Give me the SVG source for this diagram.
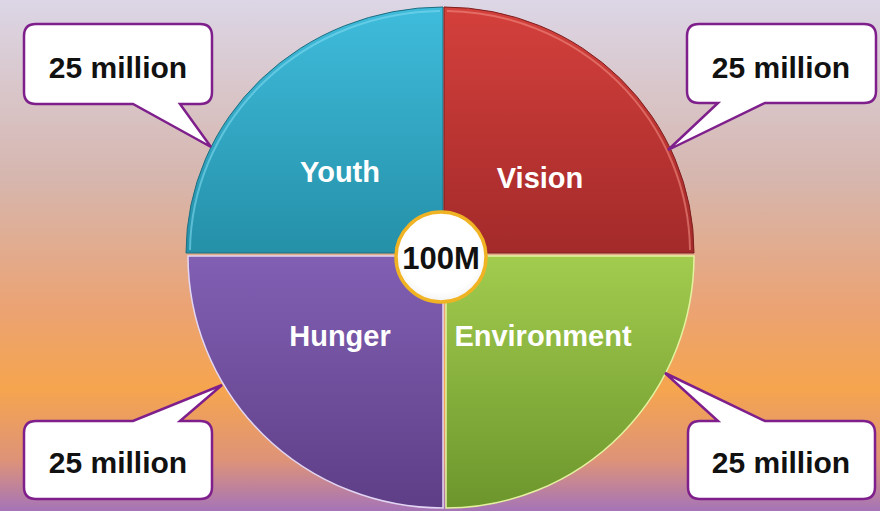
<svg xmlns="http://www.w3.org/2000/svg" width="880" height="511" viewBox="0 0 880 511">
  <defs>
    <linearGradient id="bg" x1="0" y1="0" x2="0" y2="1">
      <stop offset="0" stop-color="#DCD6E6"/>
      <stop offset="0.35" stop-color="#D6B6AE"/>
      <stop offset="0.6" stop-color="#EBA374"/>
      <stop offset="0.76" stop-color="#F6A54E"/>
      <stop offset="0.9" stop-color="#DE9378"/>
      <stop offset="1" stop-color="#A574B8"/>
    </linearGradient>
    <linearGradient id="gY" x1="0" y1="0" x2="0" y2="1">
      <stop offset="0" stop-color="#3FBCDC"/>
      <stop offset="1" stop-color="#2590A8"/>
    </linearGradient>
    <linearGradient id="gV" x1="0" y1="0" x2="0" y2="1">
      <stop offset="0" stop-color="#D4403C"/>
      <stop offset="1" stop-color="#A32A2A"/>
    </linearGradient>
    <linearGradient id="gH" x1="0" y1="0" x2="0" y2="1">
      <stop offset="0" stop-color="#8160B4"/>
      <stop offset="1" stop-color="#5E3E86"/>
    </linearGradient>
    <linearGradient id="gE" x1="0" y1="0" x2="0" y2="1">
      <stop offset="0" stop-color="#A2CC4E"/>
      <stop offset="1" stop-color="#6C962C"/>
    </linearGradient>
    <radialGradient id="gC" cx="0.5" cy="0.45" r="0.55">
      <stop offset="0.8" stop-color="#FFFFFF"/>
      <stop offset="1" stop-color="#F2F2F2"/>
    </radialGradient>
    <style>
      .seg-label { font-family: "Liberation Sans", Arial, sans-serif; font-weight: bold; font-size: 29px; fill: #FFFFFF; text-anchor: middle; }
      .callout { fill: #FFFFFF; stroke: #7E1F8C; stroke-width: 2.5; stroke-linejoin: miter; }
      .callout-text { font-family: "Liberation Sans", Arial, sans-serif; font-weight: bold; font-size: 30px; fill: #111111; text-anchor: middle; }
      .center-text { font-family: "Liberation Sans", Arial, sans-serif; font-weight: bold; font-size: 31px; fill: #111111; text-anchor: middle; }
    </style>
  </defs>

  <rect x="0" y="0" width="880" height="511" fill="url(#bg)"/>

  <g id="youth">
    <path d="M443,253 H186 A257,246 0 0 1 443,7 Z" fill="url(#gY)" stroke="#1F6E80" stroke-width="1"/>
    <path d="M190,250 A253,242 0 0 1 440,11" fill="none" stroke="#7FD8EE" stroke-width="2" opacity="0.6"/>
    <text class="seg-label" x="340" y="182">Youth</text>
  </g>

  <g id="vision">
    <path d="M444,253 V7 A250,246 0 0 1 694,253 Z" fill="url(#gV)" stroke="#7E1E1E" stroke-width="1"/>
    <path d="M447,11 A246,242 0 0 1 690,250" fill="none" stroke="#F08A80" stroke-width="2" opacity="0.6"/>
    <text class="seg-label" x="540" y="188">Vision</text>
  </g>

  <g id="hunger">
    <path d="M443,256 V508 A255,252 0 0 1 188,256 Z" fill="url(#gH)" stroke="#E2D6F4" stroke-width="1.5"/>
    <text class="seg-label" x="340" y="346">Hunger</text>
  </g>

  <g id="environment">
    <path d="M446,256 H694 A248,252 0 0 1 446,508 Z" fill="url(#gE)" stroke="#E4F2A0" stroke-width="1.5"/>
    <text class="seg-label" x="543" y="346">Environment</text>
  </g>

  <g id="center">
    <circle cx="441" cy="257" r="45" fill="url(#gC)" stroke="#F0B323" stroke-width="3.5"/>
    <text class="center-text" x="441" y="269">100M</text>
  </g>

  <g id="connectors">
    <g id="callout-tl">
      <path class="callout" d="M36,24 H200 Q212,24 212,36 V92 Q212,104 200,104 H180 L211,147 L133,104 H36 Q24,104 24,92 V36 Q24,24 36,24 Z"/>
      <text class="callout-text" x="118" y="78">25 million</text>
    </g>
    <g id="callout-tr">
      <path class="callout" d="M699,24 H864 Q876,24 876,36 V91 Q876,103 864,103 H765 L668,150 L718,103 H699 Q687,103 687,91 V36 Q687,24 699,24 Z"/>
      <text class="callout-text" x="781" y="78">25 million</text>
    </g>
    <g id="callout-bl">
      <path class="callout" d="M36,421 H133 L222,385 L180,421 H200 Q212,421 212,433 V487 Q212,499 200,499 H36 Q24,499 24,487 V433 Q24,421 36,421 Z"/>
      <text class="callout-text" x="118" y="473">25 million</text>
    </g>
    <g id="callout-br">
      <path class="callout" d="M700,421 H718 L665,373 L765,421 H863 Q875,421 875,433 V487 Q875,499 863,499 H700 Q688,499 688,487 V433 Q688,421 700,421 Z"/>
      <text class="callout-text" x="781" y="473">25 million</text>
    </g>
  </g>
</svg>
